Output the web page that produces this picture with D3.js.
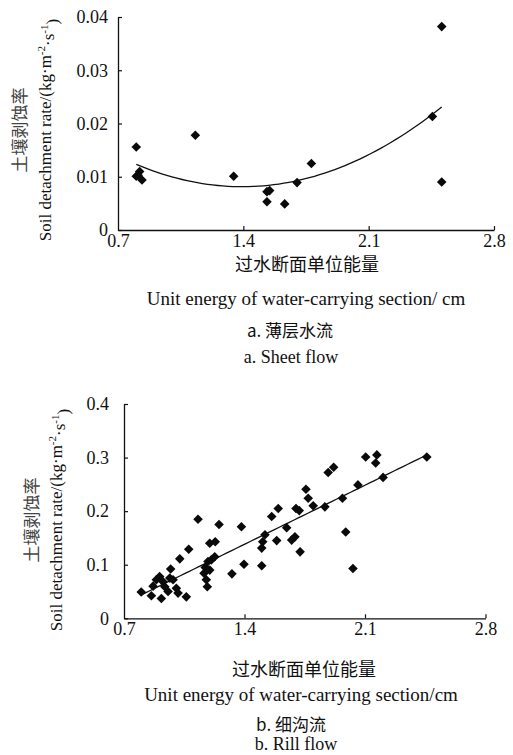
<!DOCTYPE html>
<html>
<head>
<meta charset="utf-8">
<script src="https://cdn.jsdelivr.net/npm/d3@7"></script>
<style>
  body { margin: 0; background: #fff; }
  text { fill: #111; }
  .tick text { font-family: "Liberation Serif", "Times New Roman", serif; font-size: 18px; }
  .en { font-family: "Liberation Serif", "Times New Roman", serif; font-size: 18px; }
  .ylab { font-size: 17px; }
  .zh { font-family: "Noto Sans CJK SC", sans-serif; font-size: 17px; }
</style>
</head>
<body>
<svg id="chart" width="513" height="755"></svg>
<script>
const xTicks = [0.7, 1.4, 2.1, 2.8];
const sheetYTicks = [0, 0.01, 0.02, 0.03, 0.04];
const rillYTicks = [0, 0.1, 0.2, 0.3, 0.4];

// a. sheet flow
const sheetX = [0.802, 1.132, 0.802, 0.821, 0.812, 0.834, 1.346, 1.532, 1.547, 1.532, 1.631, 1.700, 1.780, 2.456, 2.508, 2.508];
const sheetY = [0.0156, 0.0178, 0.0101, 0.0110, 0.0103, 0.0094, 0.0101, 0.0072, 0.0074, 0.0053, 0.0049, 0.0089, 0.0125, 0.0213, 0.0382, 0.0090];

// b. rill flow
const rillX = [0.800, 0.859, 0.869, 0.888, 0.907, 0.917, 0.927, 0.937, 0.956, 0.966,
  0.971, 0.985, 1.004, 1.014, 1.024, 1.062, 1.076, 1.130, 1.165, 1.172,
  1.178, 1.184, 1.188, 1.198, 1.198, 1.207, 1.227, 1.230, 1.252, 1.327,
  1.382, 1.397, 1.500, 1.500, 1.506, 1.519, 1.558, 1.587, 1.596, 1.645,
  1.674, 1.693, 1.699, 1.718, 1.723, 1.757, 1.770, 1.799, 1.867, 1.886,
  1.918, 1.969, 1.988, 2.030, 2.059, 2.104, 2.169, 2.162, 2.205, 2.459];
const rillY = [0.049, 0.042, 0.060, 0.072, 0.078, 0.037, 0.068, 0.059, 0.050, 0.075,
  0.092, 0.072, 0.056, 0.047, 0.111, 0.040, 0.129, 0.185, 0.084, 0.095,
  0.072, 0.059, 0.106, 0.140, 0.090, 0.109, 0.115, 0.143, 0.175, 0.083,
  0.171, 0.101, 0.098, 0.131, 0.143, 0.156, 0.190, 0.145, 0.205, 0.169,
  0.146, 0.152, 0.205, 0.201, 0.124, 0.241, 0.224, 0.210, 0.208, 0.272,
  0.282, 0.224, 0.161, 0.093, 0.249, 0.301, 0.305, 0.290, 0.263, 0.301];

function linearFit(xs, ys) {
  const n = xs.length, mx = d3.mean(xs), my = d3.mean(ys);
  let sxy = 0, sxx = 0;
  for (let i = 0; i < n; i++) {
    sxy += (xs[i] - mx) * (ys[i] - my);
    sxx += (xs[i] - mx) ** 2;
  }
  const b = sxy / sxx;
  return v => my + b * (v - mx);
}

function quadFit(xs, ys) {
  // normal equations for y = c0 + c1 x + c2 x^2
  const s = k => d3.sum(xs, v => v ** k);
  const t = k => d3.sum(xs, (v, i) => ys[i] * v ** k);
  const m = [[s(0), s(1), s(2), t(0)], [s(1), s(2), s(3), t(1)], [s(2), s(3), s(4), t(2)]];
  for (let i = 0; i < 3; i++) {
    for (let j = i + 1; j < 3; j++) {
      const f = m[j][i] / m[i][i];
      for (let k = i; k < 4; k++) m[j][k] -= f * m[i][k];
    }
  }
  const c = [0, 0, 0];
  for (let i = 2; i >= 0; i--) {
    let v = m[i][3];
    for (let k = i + 1; k < 3; k++) v -= m[i][k] * c[k];
    c[i] = v / m[i][i];
  }
  return v => c[0] + c[1] * v + c[2] * v * v;
}

const svg = d3.select('#chart');
const diamond = d3.symbol().type(d3.symbolSquare).size(46);

function drawPanel(o) {
  const x = d3.scaleLinear().domain([0.7, 2.8]).range(o.xRange);
  const y = d3.scaleLinear().domain([o.yTicks[0], o.yTicks[o.yTicks.length - 1]]).range(o.yRange);
  const g = svg.append('g');

  const xAxis = g.append('g')
    .attr('transform', `translate(0,${o.yRange[0]})`)
    .call(d3.axisBottom(x).tickValues(xTicks).tickFormat(d3.format('.1f')).tickSizeInner(-4).tickSizeOuter(0).tickPadding(4));
  const yAxis = g.append('g')
    .attr('transform', `translate(${o.xRange[0]},0)`)
    .call(d3.axisLeft(y).tickValues(o.yTicks).tickFormat(o.fmt).tickSizeInner(-4).tickSizeOuter(0).tickPadding(o.yPad));
  [xAxis, yAxis].forEach(a => {
    a.attr('font-family', null).attr('font-size', null);
    a.select('.domain').attr('stroke', '#111').attr('stroke-width', 1.3);
    a.selectAll('.tick line').attr('stroke', '#111').attr('stroke-width', 1.2);
    a.selectAll('.tick text').attr('fill', '#111');
  });
  xAxis.selectAll('.tick').filter(d => d === 0.7).select('line').remove();

  // trend
  const xs = d3.range(61).map(i => d3.min(o.xs) + (d3.max(o.xs) - d3.min(o.xs)) * i / 60);
  g.append('path')
    .datum(xs)
    .attr('fill', 'none')
    .attr('stroke', '#111')
    .attr('stroke-width', 1.3)
    .attr('d', d3.line().x(d => x(d)).y(d => y(o.fit(d))));

  g.selectAll('path.pt')
    .data(o.xs.map((v, i) => [v, o.ys[i]]))
    .enter()
    .append('path')
    .attr('class', 'pt')
    .attr('d', diamond)
    .attr('transform', d => `translate(${x(d[0])},${y(d[1])}) rotate(45)`)
    .attr('fill', '#0a0a0a');

  // y label
  g.append('text').attr('class', 'zh')
    .attr('transform', `translate(${o.zhX},${o.labY}) rotate(-90)`)
    .attr('text-anchor', 'middle').attr('dy', '0.35em')
    .style('fill', '#444')
    .text('土壤剥蚀率');
  const en = g.append('text').attr('class', 'en ylab')
    .attr('transform', `translate(${o.enX},${o.labY}) rotate(-90)`)
    .attr('text-anchor', 'middle').attr('dy', '0.35em');
  en.append('tspan').text('Soil detachment rate/(kg·m');
  en.append('tspan').attr('font-size', 11).attr('dy', '-0.55em').text('-2');
  en.append('tspan').attr('dy', '0.55em').text('·s');
  en.append('tspan').attr('font-size', 11).attr('dy', '-0.55em').text('-1');
  en.append('tspan').attr('dy', '0.55em').text(')');

  o.lines.forEach(l => {
    g.append('text').attr('class', l.zh ? 'zh' : 'en')
      .attr('x', l.x).attr('y', l.y).attr('text-anchor', 'middle')
      .style('font-size', l.size ? l.size + 'px' : null)
      .text(l.t);
  });
}

drawPanel({
  xs: sheetX, ys: sheetY, fit: quadFit(sheetX, sheetY),
  xRange: [118, 494], yRange: [230, 17], yTicks: sheetYTicks,
  fmt: d => d === 0 ? '0' : d3.format('.2f')(d), yPad: 10,
  zhX: 20, enX: 45, labY: 130,
  lines: [
    { t: '过水断面单位能量', x: 307, y: 271, zh: true, size: 18 },
    { t: 'Unit energy of water-carrying section/ cm', x: 306, y: 305, size: 19 },
    { t: 'a. 薄层水流', x: 290, y: 337, zh: true },
    { t: 'a. Sheet flow', x: 291, y: 363 }
  ]
});

drawPanel({
  xs: rillX, ys: rillY, fit: linearFit(rillX, rillY),
  xRange: [124, 485.5], yRange: [618.3, 404], yTicks: rillYTicks,
  fmt: d => d === 0 ? '0' : d3.format('.1f')(d), yPad: 15,
  zhX: 32, enX: 56, labY: 520,
  lines: [
    { t: '过水断面单位能量', x: 304, y: 676, zh: true, size: 18 },
    { t: 'Unit energy of water-carrying section/cm', x: 301, y: 701, size: 19 },
    { t: 'b. 细沟流', x: 291, y: 731, zh: true },
    { t: 'b. Rill flow', x: 296, y: 750 }
  ]
});
</script>
</body>
</html>
